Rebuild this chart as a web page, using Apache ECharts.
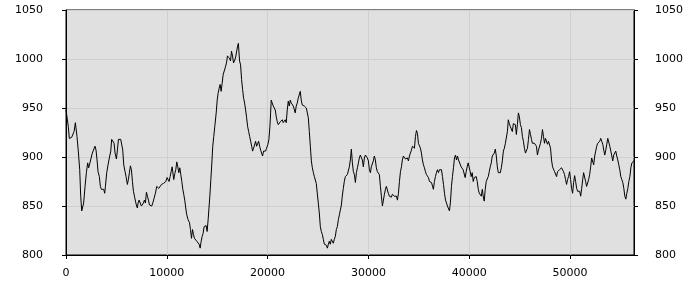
<!DOCTYPE html>
<html><head><meta charset="utf-8">
<script src="https://cdn.jsdelivr.net/npm/echarts@6/dist/echarts.min.js"></script>
<style>html,body{margin:0;padding:0;background:#fff}#c{width:700px;height:300px}</style>
</head><body><div id="c"></div>
<script>
// [distance, value] readings taken from the reference line
const profile = [
[0,948],[100,947],[230,931],[330,919],[430,918],[560,920],[660,919],[800,926],[930,935],[1030,936],[1090,921],[1220,906],[1360,887],[1460,860],[1560,845],[1650,843],[1750,853],[1890,870],[2020,884],[2150,894],[2250,889],[2350,893],[2480,894],[2610,904],[2750,906],[2880,911],[2980,907],[3080,897],[3180,885],[3310,880],[3410,870],[3510,867],[3610,868],[3740,867],[3840,863],[3910,870],[4040,884],[4170,892],[4300,899],[4440,906],[4530,918],[4670,918],[4770,914],[4870,904],[5000,898],[5100,907],[5200,918],[5330,919],[5430,918],[5530,918],[5630,907],[5730,892],[5860,885],[5960,880],[6090,872],[6190,877],[6290,884],[6390,891],[6490,887],[6590,875],[6690,865],[6790,860],[6890,855],[6980,851],[7080,848],[7150,853],[7250,856],[7350,855],[7480,850],[7580,848],[7680,853],[7780,856],[7880,853],[7980,864],[8080,860],[8180,856],[8280,851],[8370,849],[8510,850],[8610,853],[8740,858],[8870,863],[9000,870],[9100,872],[9200,868],[9330,868],[9470,872],[9570,874],[9670,873],[9800,873],[9900,875],[10030,879],[10130,880],[10230,875],[10330,880],[10430,885],[10530,890],[10630,892],[10690,877],[10790,883],[10890,887],[10990,895],[11090,890],[11190,884],[11290,889],[11390,882],[11490,875],[11590,867],[11680,862],[11780,856],[11880,848],[11980,841],[12110,836],[12250,833],[12350,826],[12450,817],[12550,826],[12650,821],[12740,817],[12840,816],[12980,814],[13110,812],[13210,811],[13310,807],[13410,814],[13510,819],[13600,822],[13700,829],[13800,827],[13900,830],[14000,824],[14100,836],[14170,846],[14270,860],[14370,877],[14470,894],[14560,911],[14660,921],[14760,931],[14900,945],[15000,958],[15090,965],[15190,970],[15290,974],[15390,967],[15490,975],[15590,984],[15720,986],[15820,992],[15920,996],[16020,1003],[16120,1001],[16220,1001],[16320,998],[16420,1008],[16520,1003],[16620,996],[16750,999],[16850,1003],[16950,1009],[17020,1013],[17100,1016],
[17220,998],[17320,994],[17420,979],[17520,969],[17620,960],[17720,955],[17820,948],[17920,940],[18020,931],[18120,926],[18220,921],[18320,916],[18420,911],[18510,906],[18610,909],[18710,907],[18810,916],[18910,911],[19010,909],[19110,916],[19210,911],[19310,907],[19410,906],[19500,901],[19600,906],[19700,907],[19800,906],[19900,909],[20030,913],[20130,918],[20230,931],[20300,945],[20360,958],[20460,959],[20560,952],[20660,950],[20760,948],[20860,941],[20960,936],[21060,933],[21160,935],[21260,936],[21360,936],[21460,938],[21550,935],[21650,935],[21750,938],[21850,935],[21950,948],[22050,957],[22150,952],[22250,958],[22350,955],[22450,955],[22550,952],[22650,952],[22740,945],[22840,952],[22940,955],[23040,960],[23140,962],[23240,967],[23340,958],[23440,953],[23540,952],[23640,952],[23740,950],[23840,950],[23940,948],[24040,940],[24140,926],[24240,911],[24340,896],[24440,889],[24540,884],[24640,880],[24740,879],[24830,873],[24930,863],[25030,853],[25130,843],[25230,829],[25330,824],[25430,821],[25530,816],[25630,811],[25730,809],[25830,810],[25930,807],[26030,811],[26120,814],[26220,811],[26320,816],[26420,818],[26520,812],[26620,816],[26720,819],[26820,826],[26920,829],[27020,836],[27120,841],[27220,846],[27320,851],[27410,860],[27510,868],[27610,875],[27710,880],[27810,882],[27910,882],[28010,884],[28110,890],[28210,897],[28310,908],[28410,894],[28510,885],[28610,882],[28710,874],[28810,884],[28910,889],[29010,894],[29100,899],[29200,902],[29300,902],[29400,897],[29500,890],[29600,899],[29700,902],[29800,902],[29900,899],[30000,896],[30100,887],[30200,884],[30290,890],[30390,892],[30490,896],[30590,901],[30690,897],[30790,889],[30890,885],[30990,884],[31090,882],[31190,870],[31290,860],[31390,850],[31490,856],[31590,862],[31690,867],[31780,870],[31880,869],[31980,863],[32080,860],[32180,862],[32280,859],[32380,862],[32480,860],[32580,860],[32680,862],[32780,860],[32880,856],[32980,863],[33080,875],[33180,885],[33280,890],[33370,897],[33470,901],[33570,901],[33670,898],[33770,897],[33870,899],[33970,896],[34070,901],[34170,902],[34270,907],[34370,911],[34470,913],[34570,909],[34670,921],[34770,927],[34870,924],[34960,914],[35060,914],[35160,909],[35260,904],[35360,897],[35460,892],[35560,889],[35660,885],[35760,882],[35860,880],[35960,879],[36060,875],[36160,877],[36260,874],[36350,872],[36450,867],[36550,875],[36650,880],[36750,884],[36850,887],[36950,884],[37050,887],[37150,889],[37250,887],[37350,880],[37450,872],[37550,863],[37650,856],[37750,853],[37840,850],[37940,850],[38040,845],[38140,854],[38240,870],[38340,880],[38440,889],[38540,899],[38640,902],[38740,897],[38840,901],[38940,897],
[39100,896],[39200,890],[39300,889],[39400,887],[39500,889],[39600,879],[39700,885],[39800,890],[39900,894],[40000,892],[40100,885],[40200,880],[40300,884],[40400,875],[40500,879],[40600,877],[40700,880],[40800,875],[40900,867],[41000,863],[41090,863],[41200,860],[41300,867],[41390,860],[41490,855],[41590,867],[41690,875],[41790,877],[41890,880],[41990,885],[42090,890],[42190,894],[42290,901],[42390,899],[42490,904],[42590,908],[42690,901],[42790,890],[42890,884],[42990,883],[43090,884],[43190,889],[43290,896],[43390,906],[43490,909],[43590,914],[43690,916],[43790,926],[43880,938],[43980,934],[44080,931],[44180,933],[44280,926],[44380,934],[44480,936],[44580,933],[44680,923],[44780,933],[44880,945],[44980,941],[45080,933],[45180,930],[45280,921],[45380,916],[45480,909],[45580,904],[45680,902],[45780,909],[45880,918],[45980,928],[46080,923],[46180,918],[46270,914],[46370,915],[46470,914],[46570,914],[46670,911],[46770,902],[46870,907],[46970,909],[47070,914],[47170,919],[47270,928],[47370,921],[47470,914],[47570,919],[47670,918],[47770,913],[47870,916],[47970,916],[48070,909],[48170,897],[48270,890],[48370,889],[48470,885],[48570,884],[48670,880],[48760,885],[48860,887],[48960,887],[49060,885],[49160,889],[49260,890],[49360,885],[49460,882],[49560,877],[49660,872],[49760,877],[49860,880],[49960,885],[50060,877],[50160,868],[50260,863],[50360,874],[50460,881],[50560,875],[50660,868],[50760,865],[50860,863],[50960,865],[51060,860],[51160,868],[51260,877],[51350,884],[51450,882],[51550,875],[51650,870],[51750,872],[51850,877],[51950,882],[52050,890],[52150,899],[52250,901],[52350,892],[52450,901],[52550,906],[52650,911],[52750,914],[52850,913],[52950,916],[53050,919],[53150,916],[53250,913],[53350,907],[53450,902],[53550,907],[53650,913],[53750,919],[53850,918],[53950,911],[54050,906],[54150,901],[54240,896],[54340,902],[54440,904],[54540,906],[54640,901],[54740,897],[54840,892],[54940,887],[55040,880],[55140,877],[55240,874],[55340,868],[55440,860],[55540,857],[55640,863],[55740,868],[55840,875],[55940,880],[56040,889],[56140,894],[56240,896],[56340,896]
];
const xTicks = [0, 10000, 20000, 30000, 40000, 50000];
const xMax = 56350;
const yMin = 800, yMax = 1050, yStep = 50;

const font = { fontFamily: 'DejaVu Sans', fontSize: 11, color: '#000' };
const chart = echarts.init(document.getElementById('c'), null, { renderer: 'canvas' });
const yAxisBase = {
  type: 'value', min: yMin, max: yMax, interval: yStep,
  axisLine: { show: true, lineStyle: { color: '#000', width: 1 } },
  axisTick: { show: true, length: 4, lineStyle: { color: '#000' } },
  axisLabel: Object.assign({ formatter: v => String(v) }, font)
};
chart.setOption({
  animation: false,
  grid: { left: 66, right: 66, top: 10, bottom: 45, show: true, backgroundColor: '#e0e0e0', borderColor: '#000', borderWidth: 1 },
  xAxis: {
    type: 'value', min: 0, max: xMax, interval: 10000,
    axisLine: { show: true, onZero: false, lineStyle: { color: '#000', width: 1 } },
    axisTick: { show: true, length: 4, lineStyle: { color: '#000' }, customValues: xTicks },
    axisLabel: Object.assign({ margin: 13, formatter: v => String(v), customValues: xTicks }, font),
    splitLine: { show: true, lineStyle: { color: '#cfcfcf', width: 1 } }
  },
  yAxis: [
    Object.assign({}, yAxisBase, { position: 'left', axisLabel: Object.assign({}, yAxisBase.axisLabel, { margin: 23 }),
      splitLine: { show: true, lineStyle: { color: '#cfcfcf', width: 1 } } }),
    Object.assign({}, yAxisBase, { position: 'right', axisLabel: Object.assign({}, yAxisBase.axisLabel, { margin: 21 }),
      splitLine: { show: false } })
  ],
  series: [{
    type: 'line', data: profile, showSymbol: false, symbol: 'none',
    lineStyle: { color: '#000', width: 1 }, silent: true
  }]
});
</script>
</body></html>
